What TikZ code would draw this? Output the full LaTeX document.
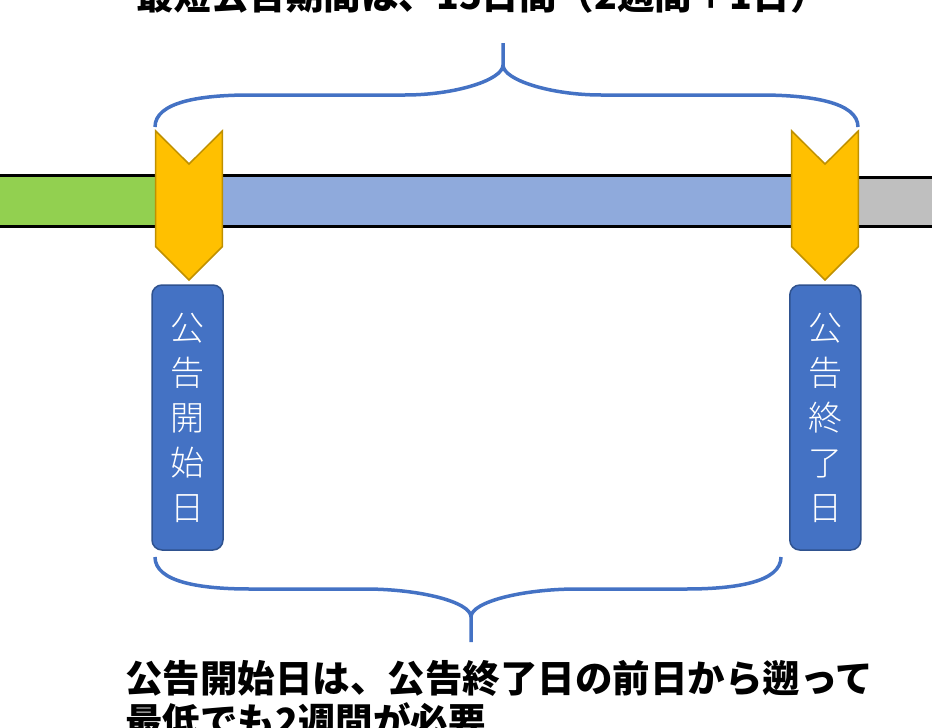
\documentclass[tikz,border=0pt]{standalone}
\usepackage{fontspec}
\newfontfamily\cjk{Noto Sans CJK JP}
\newfontfamily\cjklight{Noto Sans CJK JP Light}
\definecolor{greenbar}{HTML}{92D050}
\definecolor{bluebar}{HTML}{8FAADC}
\definecolor{greybar}{HTML}{BFBFBF}
\definecolor{chevfill}{HTML}{FFC000}
\definecolor{chevline}{HTML}{BF9000}
\definecolor{boxfill}{HTML}{4472C4}
\definecolor{boxline}{HTML}{2F528F}
\definecolor{bracecol}{HTML}{4472C4}
\tikzset{
  barstyle/.style={draw=black, line width=3pt},
  chevron/.style={fill=chevfill, draw=chevline, line width=1.5pt, line join=miter},
  datebox/.style={rectangle, rounded corners=10pt, fill=boxfill, draw=boxline, line width=1.5pt,
    minimum width=71pt, minimum height=265pt, inner sep=0pt, text=white, align=center,
    font=\cjklight\fontsize{34}{45}\selectfont},
  bracestyle/.style={draw=bracecol, line width=3.5pt},
  captext/.style={inner sep=0pt, font=\cjk\bfseries\fontsize{37.5}{43}\selectfont, text=black}
}
\begin{document}
\begin{tikzpicture}[x=1pt,y=-1pt]
\useasboundingbox (0,0) rectangle (932,728);
\clip (0,0) rectangle (932,728);
% timeline bars
\draw[barstyle, fill=greenbar] (-10,175.5) rectangle (175,226.5);
\draw[barstyle, fill=bluebar] (210,175.5) rectangle (792,226.5);
\draw[barstyle, fill=greybar] (845,177) rectangle (945,226.5);
% chevrons
\draw[chevron] (155.7,131) -- (189,164) -- (222.3,131) -- (222.3,246.7) -- (189,280) -- (155.7,246.7) -- cycle;
\draw[chevron] (791.7,131) -- (825,164) -- (858.3,131) -- (858.3,246.7) -- (825,280) -- (791.7,246.7) -- cycle;
% date boxes
\node[datebox] (startday) at (187.5,417.5) {公\\告\\開\\始\\日};
\node[datebox] (endday) at (825.3,417.5) {公\\告\\終\\了\\日};
% top brace
\coordinate (topcusp) at (503,65);
\draw[bracestyle] (155,127) .. controls (155,102) and (200,95) .. (250,95) -- (405,95)
  .. controls (455,95) and (503,80) .. (topcusp) -- (503,43);
\draw[bracestyle] (topcusp) .. controls (503,80) and (551,95) .. (601,95) -- (760,95)
  .. controls (810,95) and (858,102) .. (858,127);
% bottom brace
\coordinate (botcusp) at (471,617);
\draw[bracestyle] (155,557) .. controls (155,582) and (200,589) .. (250,589) -- (365,589)
  .. controls (420,589) and (471,602) .. (botcusp) -- (471,642);
\draw[bracestyle] (botcusp) .. controls (471,602) and (522,589) .. (577,589) -- (686,589)
  .. controls (736,589) and (781,582) .. (781,557);
% captions
\node[captext, anchor=base west] (toptext) at (136,9.5) {最短公告期間は、15日間（2週間＋1日）};
\node[captext, anchor=base west] (botline1) at (125,692) {公告開始日は、公告終了日の前日から遡って};
\node[captext, anchor=base west] (botline2) at (125,735) {最低でも2週間が必要};
\end{tikzpicture}
\end{document}
